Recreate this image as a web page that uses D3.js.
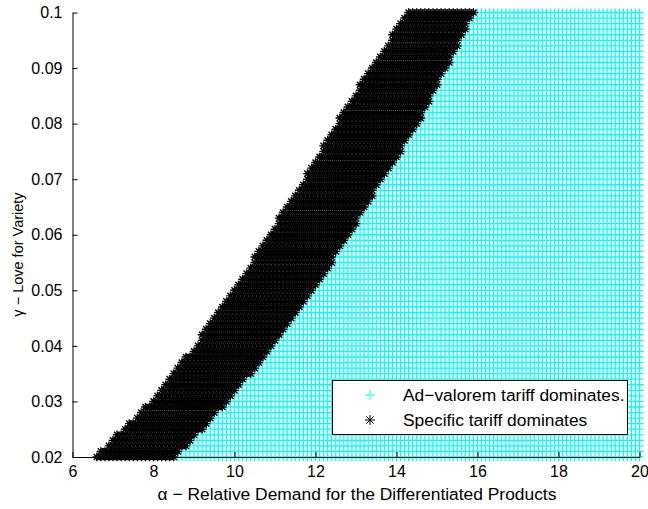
<!DOCTYPE html>
<html>
<head>
<meta charset="utf-8">
<script src="https://cdn.jsdelivr.net/npm/d3@7"></script>
<style>
  html, body { margin: 0; padding: 0; background: #fff; }
  svg { display: block; font-family: "Liberation Sans", Arial, Helvetica, sans-serif; }
</style>
</head>
<body>
<svg id="chart" width="648" height="509"></svg>
<script>
// ---- data ----
const alphaDomain = [6, 20];
const gammaDomain = [0.02, 0.1];
const alphaStep = 0.1;
const gammaStep = 0.001;
const xTicks = [6, 8, 10, 12, 14, 16, 18, 20];
const yTicks = [0.02, 0.03, 0.04, 0.05, 0.06, 0.07, 0.08, 0.09, 0.1];
const yTickLabels = ["0.02", "0.03", "0.04", "0.05", "0.06", "0.07", "0.08", "0.09", "0.1"];
// For each gamma row (0.020, 0.021, ... 0.100): alpha where "Specific tariff dominates" begins
const specificStart = [
  6.6, 6.7, 6.9, 7.0, 7.1, 7.3, 7.4, 7.6, 7.7, 7.8,
  8.0, 8.1, 8.2, 8.3, 8.4, 8.5, 8.6, 8.7, 8.8, 9.0,
  9.1, 9.2, 9.2, 9.3, 9.4, 9.5, 9.6, 9.7, 9.8, 9.9,
  10.0, 10.1, 10.2, 10.3, 10.4, 10.5, 10.5, 10.6, 10.7, 10.8,
  10.9, 11.0, 11.1, 11.1, 11.2, 11.3, 11.4, 11.5, 11.6, 11.7,
  11.8, 11.8, 11.9, 12.0, 12.1, 12.2, 12.2, 12.3, 12.4, 12.5,
  12.6, 12.6, 12.7, 12.8, 12.9, 13.0, 13.1, 13.1, 13.2, 13.3,
  13.4, 13.5, 13.6, 13.7, 13.8, 13.9, 13.9, 14.0, 14.1, 14.2,
  14.3
];
// For each gamma row: alpha where "Ad-valorem tariff dominates" begins (up to alpha = 20)
const adValoremStart = [
  8.6, 8.7, 8.9, 9.0, 9.1, 9.3, 9.4, 9.5, 9.6, 9.8,
  9.9, 10.0, 10.1, 10.2, 10.3, 10.5, 10.6, 10.7, 10.8, 10.9,
  11.0, 11.1, 11.2, 11.3, 11.4, 11.5, 11.6, 11.7, 11.8, 11.9,
  12.0, 12.1, 12.2, 12.3, 12.4, 12.5, 12.5, 12.6, 12.7, 12.8,
  12.9, 13.0, 13.1, 13.1, 13.2, 13.3, 13.4, 13.5, 13.5, 13.6,
  13.7, 13.8, 13.9, 14.0, 14.1, 14.2, 14.2, 14.3, 14.4, 14.5,
  14.6, 14.7, 14.7, 14.8, 14.9, 14.9, 15.0, 15.1, 15.1, 15.2,
  15.3, 15.4, 15.4, 15.5, 15.6, 15.6, 15.7, 15.8, 15.8, 15.9,
  16.0
];
const seriesNames = ["Ad\u2212valorem tariff dominates.", "Specific tariff dominates"];
const seriesColors = ["#00ffff", "#000000"];

// ---- layout ----
const svg = d3.select("#chart");
const x = d3.scaleLinear().domain(alphaDomain).range([72.5, 639.5]);
const y = d3.scaleLinear().domain(gammaDomain).range([457, 12.5]);

// build grid points
const nA = Math.round((alphaDomain[1] - alphaDomain[0]) / alphaStep);
const nG = Math.round((gammaDomain[1] - gammaDomain[0]) / gammaStep);
const adPts = [], spPts = [];
for (let j = 0; j <= nG; j++) {
  const g = gammaDomain[0] + j * gammaStep;
  const s0 = Math.round(specificStart[j] * 10);
  const a0 = Math.round(adValoremStart[j] * 10);
  for (let i = 0; i <= nA; i++) {
    const ai = Math.round(alphaDomain[0] * 10) + i;
    const a = ai / 10;
    if (ai >= a0) adPts.push([a, g]);
    else if (ai >= s0) spPts.push([a, g]);
  }
}

function plusPath(pts, r) {
  let s = "";
  for (const [a, g] of pts) {
    const px = x(a), py = y(g);
    s += `M${px - r},${py}H${px + r}M${px},${py - r}V${py + r}`;
  }
  return s;
}
function starPath(pts, r) {
  let s = "";
  const d = r * 0.72;
  for (const [a, g] of pts) {
    const px = x(a), py = y(g);
    s += `M${px - r},${py}H${px + r}M${px},${py - r}V${py + r}` +
         `M${px - d},${py - d}L${px + d},${py + d}M${px - d},${py + d}L${px + d},${py - d}`;
  }
  return s;
}

svg.append("path").attr("d", plusPath(adPts, 4))
  .attr("fill", "none").attr("stroke", seriesColors[0]).attr("stroke-width", 1.3);
svg.append("path").attr("d", starPath(spPts, 4.3))
  .attr("fill", "none").attr("stroke", seriesColors[1]).attr("stroke-width", 1.4);

// ---- axes ----
const fs = 16, fl = 17.4, fy = 14.5;
const xAxis = d3.axisBottom(x).tickValues(xTicks).tickSizeInner(-5).tickSizeOuter(0)
  .tickPadding(9).tickFormat(d3.format("d"));
const gx = svg.append("g").attr("transform", "translate(0,457)").call(xAxis);
const yAxis = d3.axisLeft(y).tickValues(yTicks).tickSizeInner(-5).tickSizeOuter(0)
  .tickPadding(10).tickFormat((d, i) => yTickLabels[i]);
const gy = svg.append("g").attr("transform", "translate(72.5,0)").call(yAxis);
[gx, gy].forEach(g => {
  g.select(".domain").attr("stroke", "#000").attr("stroke-width", 1);
  g.selectAll(".tick line").attr("stroke", "#000");
  g.selectAll(".tick text").attr("fill", "#000").attr("font-size", fs)
    .attr("font-family", "Liberation Sans, Arial, sans-serif");
});
gx.selectAll(".tick text").attr("dy", "0.71em");

// ---- axis labels ----
svg.append("text").attr("x", 357).attr("y", 500).attr("text-anchor", "middle")
  .attr("font-size", fl).attr("fill", "#000")
  .text("\u03b1 \u2212 Relative Demand for the Differentiated Products");
svg.append("text")
  .attr("transform", "translate(23,254.5) rotate(-90)").attr("text-anchor", "middle")
  .attr("font-size", fy).attr("fill", "#000")
  .text("\u03b3 \u2212 Love for Variety");

// ---- legend ----
const lg = svg.append("g");
lg.append("rect").attr("x", 332.5).attr("y", 380.5).attr("width", 295).attr("height", 54)
  .attr("fill", "#fff").attr("stroke", "#000").attr("stroke-width", 1);
const rows = [395, 420];
const lr = 5;
lg.append("path").attr("d", `M${370 - lr},${rows[0]}H${370 + lr}M370,${rows[0] - lr}V${rows[0] + lr}`)
  .attr("stroke", seriesColors[0]).attr("fill", "none");
const dd = lr * 0.72;
lg.append("path").attr("d",
  `M${370 - lr},${rows[1]}H${370 + lr}M370,${rows[1] - lr}V${rows[1] + lr}` +
  `M${370 - dd},${rows[1] - dd}L${370 + dd},${rows[1] + dd}M${370 - dd},${rows[1] + dd}L${370 + dd},${rows[1] - dd}`)
  .attr("stroke", seriesColors[1]).attr("fill", "none");
seriesNames.forEach((n, i) => {
  lg.append("text").attr("x", 403).attr("y", rows[i]).attr("dy", "0.35em")
    .attr("font-size", fl).attr("fill", "#000").text(n);
});
</script>
</body>
</html>
